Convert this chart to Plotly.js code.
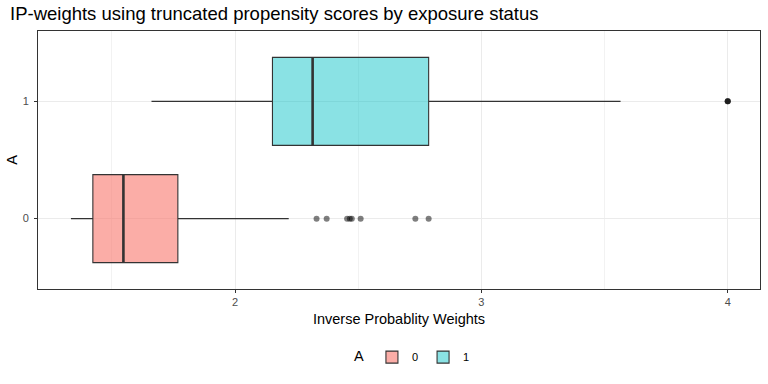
<!DOCTYPE html>
<html>
<head>
<meta charset="utf-8">
<script src="https://cdn.plot.ly/plotly-3.0.1.min.js"></script>
<style>html,body{margin:0;padding:0;background:#fff;}#chart{width:768px;height:384px;}</style>
</head>
<body>
<div id="chart"></div>
<script>
const groups = ['0', '1'];
const lowerFence = [1.334, 1.661];
const q1Values = [1.423, 2.152];
const medianValues = [1.547, 2.315];
const q3Values = [1.768, 2.786];
const upperFence = [2.218, 3.565];
const outliers0 = [2.331, 2.372, 2.455, 2.466, 2.474, 2.510, 2.732, 2.786];
const outliers1 = [4.0, 4.0, 4.0];
const fillColors = ['rgba(248,118,109,0.6)', 'rgba(0,191,196,0.46)'];
const xTicks = [2, 3, 4];

const font = 'Liberation Sans, Arial, Helvetica, sans-serif';
const boxWidth = 0.75;
const traces = [];
groups.forEach((g, i) => {
  traces.push({
    type: 'box', orientation: 'h', name: g,
    y: [g], q1: [q1Values[i]], median: [medianValues[i]], q3: [q3Values[i]],
    lowerfence: [lowerFence[i]], upperfence: [upperFence[i]],
    fillcolor: fillColors[i], line: {color: '#333333', width: 1.1},
    whiskerwidth: 0, width: boxWidth, boxpoints: false, hoverinfo: 'skip'
  });
});
const outlierSets = [outliers0, outliers1];
groups.forEach((g, i) => {
  traces.push({
    type: 'scatter', mode: 'markers', showlegend: false,
    x: outlierSets[i], y: outlierSets[i].map(() => g),
    marker: {color: 'rgba(0,0,0,0.5)', size: 6}, hoverinfo: 'skip'
  });
});
// thicker median lines (ggplot fatten)
const shapes = groups.map((g, i) => ({
  type: 'line', xref: 'x', yref: 'y',
  x0: medianValues[i], x1: medianValues[i],
  y0: i - boxWidth / 2, y1: i + boxWidth / 2,
  line: {color: '#333333', width: 2.6}
}));

const layout = {
  width: 768, height: 384,
  margin: {l: 38, r: 8, t: 31, b: 95},
  paper_bgcolor: '#ffffff', plot_bgcolor: '#ffffff',
  font: {family: font, color: '#000'},
  title: {text: 'IP-weights using truncated propensity scores by exposure status',
    font: {family: font, size: 18.5, color: '#000'},
    xref: 'container', x: 10/768, xanchor: 'left', yref: 'container', y: 1 - 13.5/384, yanchor: 'middle'},
  xaxis: {
    range: [1.2003, 4.131], tickvals: xTicks, ticktext: xTicks.map(String),
    showgrid: true, gridcolor: '#ebebeb', gridwidth: 1,
    minor: {dtick: 0.5, tick0: 0, showgrid: true, gridcolor: '#f2f2f2', gridwidth: 1, ticks: ''},
    zeroline: false, showline: true, mirror: true, linecolor: '#333333', linewidth: 1,
    ticks: 'outside', ticklen: 3, tickcolor: '#333333', tickwidth: 1,
    tickfont: {size: 11, color: '#4d4d4d', family: font},
    title: {text: 'Inverse Probablity Weights', font: {size: 14.5, color: '#000', family: font}, standoff: 6}
  },
  yaxis: {
    type: 'category', categoryorder: 'array', categoryarray: groups,
    range: [-0.6, 1.6],
    showgrid: true, gridcolor: '#ebebeb', gridwidth: 1,
    zeroline: false, showline: true, mirror: true, linecolor: '#333333', linewidth: 1,
    ticks: 'outside', ticklen: 3, tickcolor: '#333333', tickwidth: 1,
    ticklabelstandoff: 3,
    tickfont: {size: 11, color: '#4d4d4d', family: font},
    title: {text: 'A', font: {size: 14.5, color: '#000', family: font}, standoff: 1}
  },
  shapes: shapes,
  showlegend: true,
  legend: {
    orientation: 'h', x: 0.52, xanchor: 'center', y: -0.264, yanchor: 'middle',
    title: {text: 'A', font: {size: 14.5, color: '#000', family: font}, side: 'left'},
    font: {size: 11, color: '#000', family: font},
    itemwidth: 30, traceorder: 'normal', bgcolor: 'rgba(0,0,0,0)'
  }
};
Plotly.newPlot('chart', traces, layout, {staticPlot: true, displayModeBar: false});
</script>
</body>
</html>
